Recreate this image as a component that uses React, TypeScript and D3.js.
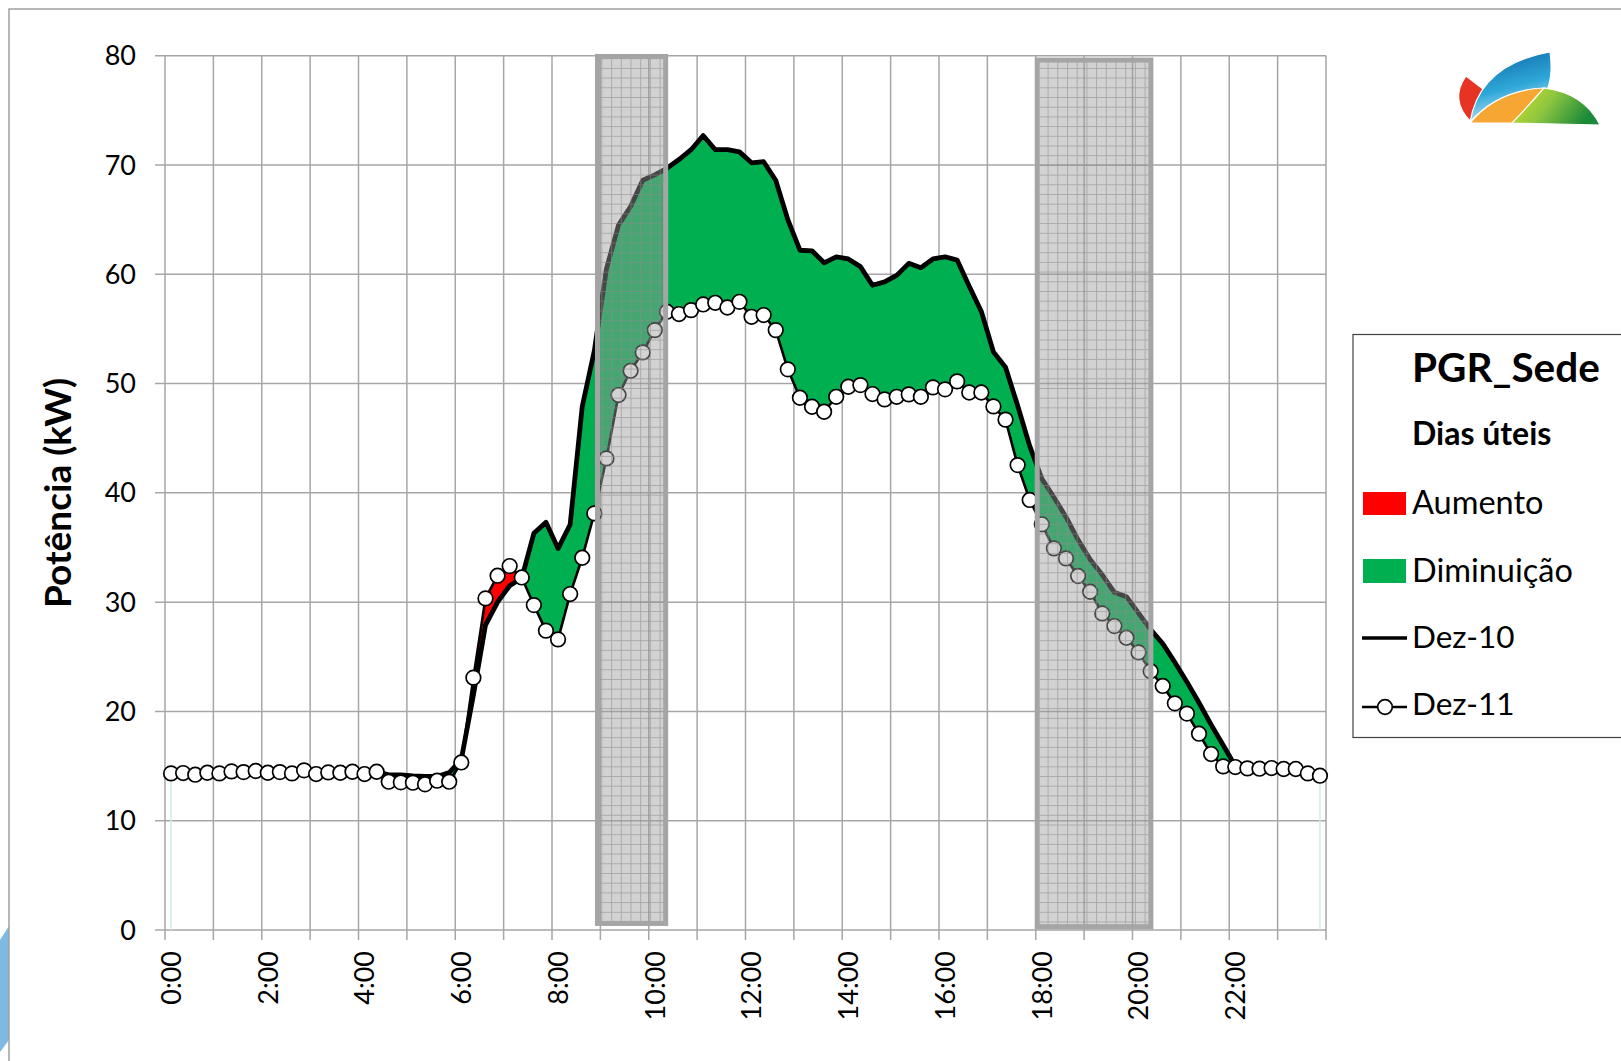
import React from "react";
import * as d3 from "d3";

// ---- Data (15-minute slots, 96 per day) ----
const dez10: number[] = [
  14.35, 14.4, 14.3, 14.4, 14.35, 14.5, 14.45, 14.5, 14.4, 14.45, 14.35, 14.55, 14.3, 14.4, 14.4, 14.45,
  14.35, 14.5, 14.2, 14.2, 14.1, 14.05, 14.05, 14.4, 15.6, 21.5, 27.9, 30.0, 31.5, 32.2, 36.3, 37.3,
  34.9, 37.1, 47.9, 53.0, 60.5, 64.5, 66.2, 68.6, 69.1, 69.7, 70.5, 71.4, 72.7, 71.4, 71.4, 71.2,
  70.2, 70.3, 68.6, 65.0, 62.2, 62.15, 61.05, 61.6, 61.4, 60.7, 59.0, 59.3, 59.9, 61.0, 60.6, 61.4,
  61.6, 61.3, 58.9, 56.6, 52.9, 51.5, 48.0, 44.3, 41.3, 39.6, 37.8, 35.7, 33.9, 32.5, 30.9, 30.5,
  29.0, 27.5, 26.2, 24.5, 22.7, 20.8, 18.8, 16.9, 15.0, 14.8, 14.75, 14.8, 14.75, 14.7, 14.35, 14.1,
];
const dez11: number[] = [
  14.33, 14.36, 14.21, 14.39, 14.33, 14.51, 14.45, 14.55, 14.39, 14.45, 14.33, 14.61, 14.27, 14.42, 14.39, 14.48,
  14.27, 14.48, 13.57, 13.51, 13.48, 13.33, 13.66, 13.57, 15.33, 23.09, 30.34, 32.42, 33.3, 32.26, 29.73, 27.39,
  26.59, 30.74, 34.06, 38.12, 43.15, 48.95, 51.17, 52.85, 54.89, 56.57, 56.36, 56.72, 57.24, 57.39, 56.96, 57.48,
  56.11, 56.27, 54.89, 51.3, 48.7, 47.88, 47.42, 48.79, 49.71, 49.86, 49.04, 48.55, 48.79, 49.01, 48.79, 49.65,
  49.47, 50.2, 49.18, 49.18, 47.91, 46.7, 42.54, 39.35, 37.12, 34.92, 34.0, 32.39, 30.95, 28.97, 27.81, 26.74,
  25.4, 23.68, 22.33, 20.74, 19.8, 17.96, 16.1, 14.97, 14.91, 14.79, 14.76, 14.82, 14.73, 14.73, 14.33, 14.12,
];
const xTickLabels = ["0:00", "2:00", "4:00", "6:00", "8:00", "10:00", "12:00", "14:00", "16:00", "18:00", "20:00", "22:00"];
const xLabelMinutes = [0, 120, 240, 360, 480, 600, 720, 840, 960, 1080, 1200, 1320];
const hourTicks = d3.range(0, 25);
const yTicks = [0, 10, 20, 30, 40, 50, 60, 70, 80];
const bandStartHours = [8.94, 18.03];
const bandEndHours = [10.35, 20.38];
const bandTops = [79.93, 79.6];
const bandBottoms = [0.6, 0.3];
const legendTitle = "PGR_Sede";
const legendSubtitle = "Dias úteis";
const legendLabels = ["Aumento", "Diminuição", "Dez-10", "Dez-11"];
const yTitle = "Potência (kW)";

const W = 1621;
const H = 1061;
const FONT = "Lato, 'Open Sans', sans-serif";
const GRID = "#a6a6a6";

export default function App() {
  const x = d3.scaleLinear().domain([0, 1440]).range([165, 1326]);
  const y = d3.scaleLinear().domain([0, 80]).range([930, 55.7]);
  const slotX = (i: number) => x(i * 15 + 7.5);

  const line = d3.line<number>().x((_, i) => slotX(i)).y((d) => y(d));
  const between = d3
    .area<number>()
    .x((_, i) => slotX(i))
    .y0((_, i) => y(dez11[i]))
    .y1((d) => y(d));
  const aboveClip = d3.area<number>().x((_, i) => slotX(i)).y0(0).y1((d) => y(d));
  const belowClip = d3.area<number>().x((_, i) => slotX(i)).y0((d) => y(d)).y1(H);

  return (
    <svg width={W} height={H} style={{ position: "absolute", left: 0, top: 0, background: "#fff" }} fontFamily={FONT}>
      <defs>
        <clipPath id="clipAbove">
          <path d={aboveClip(dez11) || ""} />
        </clipPath>
        <clipPath id="clipBelow">
          <path d={belowClip(dez11) || ""} />
        </clipPath>
        <pattern id="bandGrid" patternUnits="userSpaceOnUse" width="9.7" height="9.7">
          <path d="M0 0.5H9.7M0.5 0V9.7" stroke="#8a8a8a" strokeWidth="1" strokeOpacity="0.55" fill="none" />
        </pattern>
        <linearGradient id="gBlue" x1="0" y1="0" x2="0.3" y2="1">
          <stop offset="0" stopColor="#0b64a4" />
          <stop offset="0.6" stopColor="#2ea7d8" />
          <stop offset="1" stopColor="#bfe8f5" />
        </linearGradient>
        <linearGradient id="gGreen" x1="0" y1="0" x2="1" y2="0.3">
          <stop offset="0" stopColor="#d6e02a" />
          <stop offset="0.5" stopColor="#8cc53f" />
          <stop offset="1" stopColor="#1b8a3a" />
        </linearGradient>
      </defs>

      {/* chart area frame */}
      <rect x={0} y={0} width={W} height={H} fill="#fff" />
      <path d="M0,940 L9,926 L9,1040 L0,1052 Z" fill="#7db9e2" />
      <path d={`M9,${H} L9,9 L${W},9`} fill="none" stroke="#a0a0a0" strokeWidth={1.5} />

      {/* logo */}
      <g stroke="#fff" strokeWidth={1.2}>
        <path d="M1466,76 L1483,89 L1471,122 Q1449,100 1466,76 Z" fill="#e63324" />
        <path d="M1470,122 Q1480,64 1550,52 Q1553,72 1548,88 Q1498,90 1470,122 Z" fill="url(#gBlue)" />
        <path d="M1470,123 Q1497,90 1544,88 Q1532,112 1512,123 Z" fill="#f6a733" />
        <path d="M1512,123 Q1530,104 1544,88 Q1584,93 1600,125 Z" fill="url(#gGreen)" />
      </g>

      {/* grid */}
      <g stroke={GRID} strokeWidth={1.5}>
        {yTicks.map((t) => (
          <line key={"h" + t} x1={155} x2={x(1440)} y1={y(t)} y2={y(t)} />
        ))}
        {hourTicks.map((h) => (
          <line key={"v" + h} x1={x(h * 60)} x2={x(h * 60)} y1={y(80)} y2={y(0) + 10} />
        ))}
      </g>

      {/* y labels */}
      <g fontSize={27} textAnchor="end" fill="#000">
        {yTicks.map((t) => (
          <text key={"yl" + t} x={136} y={y(t) + 9.6}>
            {t}
          </text>
        ))}
      </g>
      {/* x labels */}
      <g fontSize={27} textAnchor="end" fill="#000">
        {xTickLabels.map((lab, k) => (
          <text key={lab} transform={`translate(${x(xLabelMinutes[k] + 7.5) + 9.8},951) rotate(-90)`}>
            {lab}
          </text>
        ))}
      </g>
      <text transform={`translate(71,${(y(0) + y(80)) / 2}) rotate(-90)`} textAnchor="middle" fontSize={37} fontWeight="bold">
        {yTitle}
      </text>

      {/* faint edge lines */}
      <line x1={slotX(0)} x2={slotX(0)} y1={y(0)} y2={y(dez11[0])} stroke="#cdeee6" strokeWidth={1.5} />
      <line x1={slotX(95)} x2={slotX(95)} y1={y(0)} y2={y(dez11[95])} stroke="#cdeee6" strokeWidth={1.5} />

      {/* difference areas */}
      <path d={between(dez10) || ""} fill="#00b050" clipPath="url(#clipAbove)" />
      <path d={between(dez10) || ""} fill="#ff0000" clipPath="url(#clipBelow)" />

      {/* series lines */}
      <path d={line(dez10) || ""} fill="none" stroke="#000" strokeWidth={4.8} strokeLinejoin="round" />
      <path d={line(dez11) || ""} fill="none" stroke="#000" strokeWidth={2.6} strokeLinejoin="round" />
      {dez11.map((v, i) => (
        <circle key={"m" + i} cx={slotX(i)} cy={y(v)} r={7.3} fill="#fff" stroke="#000" strokeWidth={1.7} />
      ))}

      {/* peak hour bands */}
      {bandStartHours.map((s, k) => {
        const bx = x(s * 60);
        const bw = x(bandEndHours[k] * 60) - bx;
        const by = y(bandTops[k]);
        const bh = y(bandBottoms[k]) - by;
        return (
          <g key={"band" + k}>
            <rect x={bx} y={by} width={bw} height={bh} fill="#9c9c9c" fillOpacity={0.45} />
            <rect x={bx} y={by} width={bw} height={bh} fill="url(#bandGrid)" />
            <rect x={bx} y={by} width={bw} height={bh} fill="none" stroke="#a5a5a5" strokeWidth={5} />
          </g>
        );
      })}

      {/* legend */}
      <rect x={1353} y={334.5} width={300} height={403} fill="#fff" stroke="#404040" strokeWidth={1.2} />
      <text x={1412} y={382} fontSize={40.5} fontWeight="bold">
        {legendTitle}
      </text>
      <text x={1412} y={445} fontSize={32} fontWeight="bold">
        {legendSubtitle}
      </text>
      <rect x={1363} y={492} width={43} height={23} fill="#ff0000" />
      <text x={1412} y={514} fontSize={32.5}>
        {legendLabels[0]}
      </text>
      <rect x={1363} y={559} width={43} height={24} fill="#00b050" />
      <text x={1412} y={582} fontSize={32.5}>
        {legendLabels[1]}
      </text>
      <line x1={1362} x2={1407} y1={638} y2={638} stroke="#000" strokeWidth={3.5} />
      <text x={1412} y={648} fontSize={31.5}>
        {legendLabels[2]}
      </text>
      <line x1={1362} x2={1407} y1={707} y2={707} stroke="#000" strokeWidth={2.6} />
      <circle cx={1385} cy={707} r={7.3} fill="#fff" stroke="#000" strokeWidth={1.7} />
      <text x={1412} y={715} fontSize={31.5}>
        {legendLabels[3]}
      </text>
    </svg>
  );
}
